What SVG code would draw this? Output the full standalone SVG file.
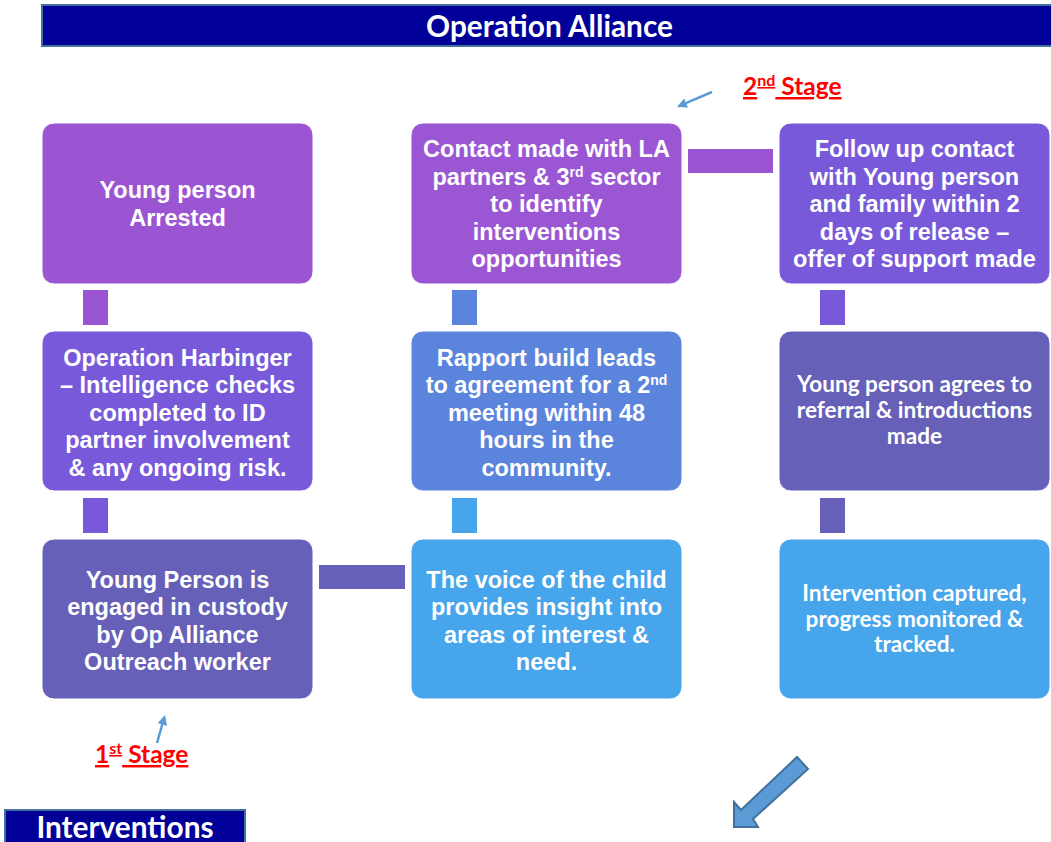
<svg xmlns="http://www.w3.org/2000/svg" width="1051" height="842" viewBox="0 0 1051 842">
<style>
.bar{fill:#000099;stroke:#41719C;stroke-width:2}
.bartxt{font-family:Lato,"Open Sans",sans-serif;font-weight:bold;fill:#fff;text-anchor:middle}
.box{stroke:#fff;stroke-width:1}
.t{font-family:"Liberation Sans",Arial,sans-serif;font-weight:bold;font-size:23.5px;fill:#fff;text-anchor:middle}
.c{font-family:Lato,"Open Sans",sans-serif;font-weight:bold;font-size:22.6px;fill:#fff;text-anchor:middle}
.stage{font-family:Lato,"Open Sans",sans-serif;font-weight:bold;font-size:24.5px;fill:#FF0000;text-decoration:underline}
.sup{font-size:14px}
.ssup{font-size:16px}
.arr{stroke:#5B9BD5;stroke-width:2.5;fill:none}
</style>
<defs>
<marker id="ah" markerUnits="userSpaceOnUse" markerWidth="10" markerHeight="10" refX="3" refY="5" orient="auto">
<path d="M0,0 L10,5 L0,10 z" fill="#5B9BD5"/>
</marker>
</defs>
<rect width="1051" height="842" fill="#fff"/>

<g id="header">
<rect class="bar" x="42" y="5" width="1015" height="41"/>
<text class="bartxt" x="549.5" y="37" font-size="29.8">Operation Alliance</text>
</g>

<g id="connectors">
<rect x="83" y="290" width="25" height="35" fill="#9B55D2"/>
<rect x="83" y="498" width="25" height="35" fill="#7759D9"/>
<rect x="452" y="290" width="25" height="35" fill="#5B84DC"/>
<rect x="452" y="498" width="25" height="35" fill="#47A5EB"/>
<rect x="820" y="290" width="25" height="35" fill="#7759D9"/>
<rect x="820" y="498" width="25" height="35" fill="#6760B8"/>
<rect x="688" y="149" width="85" height="24" fill="#9B55D2"/>
<rect x="319" y="565" width="86" height="24" fill="#6760B8"/>
<line class="arr" x1="712" y1="92" x2="683.4" y2="104.2" marker-end="url(#ah)"/>
<line class="arr" x1="157" y1="743" x2="163.1" y2="721.7" marker-end="url(#ah)"/>
<polygon points="797,757 808,769 753,819 758,827 734,827 734,802 741,810" fill="#5B9BD5" stroke="#41719C" stroke-width="2" stroke-linejoin="miter"/>
</g>

<g id="arrested">
<rect class="box" x="42" y="123" width="271" height="161" rx="12" fill="#9B55D2"/>
<text class="t" x="177.5" y="198">Young person</text>
<text class="t" x="177.5" y="226">Arrested</text>
</g>

<g id="contact">
<rect class="box" x="411" y="123" width="271" height="161" rx="12" fill="#9B57D3"/>
<text class="t" x="546.5" y="157">Contact made with LA</text>
<text class="t" x="546.5" y="184.5">partners &amp; 3<tspan class="sup" dy="-8">rd</tspan><tspan dy="8"> sector</tspan></text>
<text class="t" x="546.5" y="212">to identify</text>
<text class="t" x="546.5" y="239.5">interventions</text>
<text class="t" x="546.5" y="267">opportunities</text>
</g>

<g id="followup">
<rect class="box" x="779" y="123" width="271" height="161" rx="12" fill="#7759D9"/>
<text class="t" x="914.5" y="157">Follow up contact</text>
<text class="t" x="914.5" y="184.5">with Young person</text>
<text class="t" x="914.5" y="212">and family within 2</text>
<text class="t" x="914.5" y="239.5">days of release –</text>
<text class="t" x="914.5" y="267">offer of support made</text>
</g>

<g id="harbinger">
<rect class="box" x="42" y="331" width="271" height="160" rx="12" fill="#7759D9"/>
<text class="t" x="177.5" y="365.5">Operation Harbinger</text>
<text class="t" x="177.5" y="393">– Intelligence checks</text>
<text class="t" x="177.5" y="420.5">completed to ID</text>
<text class="t" x="177.5" y="448">partner involvement</text>
<text class="t" x="177.5" y="475.5">&amp; any ongoing risk.</text>
</g>

<g id="rapport">
<rect class="box" x="411" y="331" width="271" height="160" rx="12" fill="#5B84DC"/>
<text class="t" x="546.5" y="365.5">Rapport build leads</text>
<text class="t" x="546.5" y="393">to agreement for a 2<tspan class="sup" dy="-8">nd</tspan></text>
<text class="t" x="546.5" y="420.5">meeting within 48</text>
<text class="t" x="546.5" y="448">hours in the</text>
<text class="t" x="546.5" y="475.5">community.</text>
</g>

<g id="agrees">
<rect class="box" x="779" y="331" width="271" height="160" rx="12" fill="#6760B8"/>
<text class="c" x="914.5" y="391.5">Young person agrees to</text>
<text class="c" x="914.5" y="417.5">referral &amp; introductions</text>
<text class="c" x="914.5" y="443.5">made</text>
</g>

<g id="custody">
<rect class="box" x="42" y="539" width="271" height="160" rx="12" fill="#6760B8"/>
<text class="t" x="177.5" y="587.5">Young Person is</text>
<text class="t" x="177.5" y="615">engaged in custody</text>
<text class="t" x="177.5" y="642.5">by Op Alliance</text>
<text class="t" x="177.5" y="670">Outreach worker</text>
</g>

<g id="voice">
<rect class="box" x="411" y="539" width="271" height="160" rx="12" fill="#47A5EB"/>
<text class="t" x="546.5" y="587.5">The voice of the child</text>
<text class="t" x="546.5" y="615">provides insight into</text>
<text class="t" x="546.5" y="642.5">areas of interest &amp;</text>
<text class="t" x="546.5" y="670">need.</text>
</g>

<g id="captured">
<rect class="box" x="779" y="539" width="271" height="160" rx="12" fill="#47A5EB"/>
<text class="c" x="914.5" y="600.5">Intervention captured,</text>
<text class="c" x="914.5" y="626.5">progress monitored &amp;</text>
<text class="c" x="914.5" y="652">tracked.</text>
</g>

<g id="stage2">
<text class="stage" x="743" y="95">2<tspan class="ssup" dy="-9">nd</tspan><tspan dy="9"> Stage</tspan></text>
</g>

<g id="stage1">
<text class="stage" x="95" y="763">1<tspan class="ssup" dy="-9">st</tspan><tspan dy="9"> Stage</tspan></text>
</g>

<g id="interventions">
<rect class="bar" x="5" y="810" width="240" height="40"/>
<text class="bartxt" x="125" y="838" font-size="29.8">Interventions</text>
</g>
</svg>
